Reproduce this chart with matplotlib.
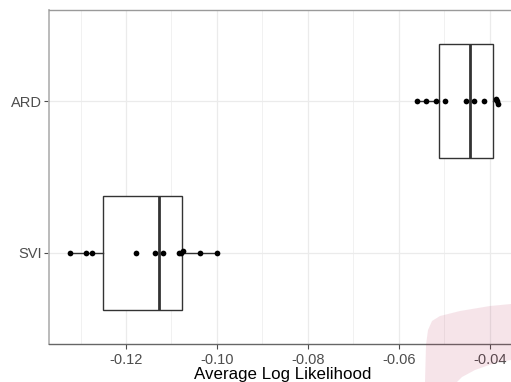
import matplotlib
matplotlib.use("Agg")
import matplotlib.pyplot as plt
from matplotlib.patches import Polygon
import numpy as np

plt.rcParams['font.family'] = ['Liberation Sans', 'DejaVu Sans']

categories = ["SVI", "ARD"]
svi_values = [-0.1323, -0.1288, -0.1275, -0.1177, -0.1136, -0.1119, -0.1083, -0.1078, -0.1075, -0.1038, -0.1000]
svi_jitter = [0, 0, 0, 0, 0, 0, 0, 0, 0.011, 0, 0]
ard_values = [-0.0560, -0.0541, -0.0517, -0.0498, -0.0453, -0.0434, -0.0412, -0.0386, -0.0383, -0.0382]
ard_jitter = [0, 0, 0, 0, 0, 0, 0, 0.015, 0, -0.017]

# box statistics: (whislo, q1, med, q3, whishi)
svi_box = [-0.1323, -0.1251, -0.1127, -0.1077, -0.1000]
ard_box = [-0.0560, -0.0512, -0.0444, -0.0392, -0.0382]

x_ticks = [-0.12, -0.10, -0.08, -0.06, -0.04]
x_tick_labels = ["-0.12", "-0.10", "-0.08", "-0.06", "-0.04"]
x_minor = [-0.13, -0.11, -0.09, -0.07, -0.05]
x_label = "Average Log Likelihood"

W, H = 511, 382
fig = plt.figure(figsize=(W / 100, H / 100), dpi=100)
ax = fig.add_axes([49 / W, (H - 344) / H, (517 - 49) / W, (344 - 10) / H])

ax.set_xlim(-0.13694, -0.03399)
ax.set_ylim(0.4, 2.6)

grid_c = "#EBEBEB"
for v in x_ticks:
    ax.axvline(v, color=grid_c, lw=0.9, zorder=0)
for v in x_minor:
    ax.axvline(v, color=grid_c, lw=0.5, zorder=0)
for y in (1, 2):
    ax.axhline(y, color=grid_c, lw=0.9, zorder=0)

stats = []
for box in (svi_box, ard_box):
    stats.append(dict(whislo=box[0], q1=box[1], med=box[2], q3=box[3], whishi=box[4], fliers=[]))
ax.bxp(stats, positions=[1, 2], vert=False, widths=0.75, showcaps=False, patch_artist=True,
       boxprops=dict(facecolor="white", edgecolor="#333333", linewidth=1.0),
       whiskerprops=dict(color="#333333", linewidth=1.0),
       medianprops=dict(color="#333333", linewidth=2.0), zorder=2)

ax.scatter(svi_values, 1 + np.array(svi_jitter), s=17, color="black", zorder=3, linewidths=0)
ax.scatter(ard_values, 2 + np.array(ard_jitter), s=17, color="black", zorder=3, linewidths=0)

ax.set_xticks(x_ticks)
ax.set_xticklabels(x_tick_labels)
ax.set_yticks([1, 2])
ax.set_yticklabels(categories)
ax.tick_params(axis="both", colors="#4D4D4D", labelsize=10.5, length=3.5, width=0.8)
ax.tick_params(axis="x", pad=3.0)
ax.tick_params(axis="y", pad=1.5)
ax.set_xlabel(x_label, fontsize=12.2, color="black", labelpad=0.3)

ax.spines["left"].set_color("#b5b5b5")
ax.spines["left"].set_linewidth(1.3)
ax.spines["top"].set_color("#9a9a9a")
ax.spines["top"].set_linewidth(1.0)
ax.spines["bottom"].set_color("#666666")
ax.spines["bottom"].set_linewidth(1.0)
ax.spines["right"].set_visible(False)

# faint pink watermark shape in lower right
pts = [(425, 382), (426, 345), (428, 330), (432, 321), (440, 316), (460, 311), (490, 306), (511, 304),
       (511, 360), (495, 363), (475, 370), (462, 377), (457, 382)]
poly = Polygon([(x / W, 1 - y / H) for x, y in pts], closed=True, transform=fig.transFigure,
               facecolor=(0.72, 0.15, 0.32), alpha=0.12, edgecolor="none", zorder=10)
fig.patches.append(poly)

fig.savefig("out.png", dpi=100)
